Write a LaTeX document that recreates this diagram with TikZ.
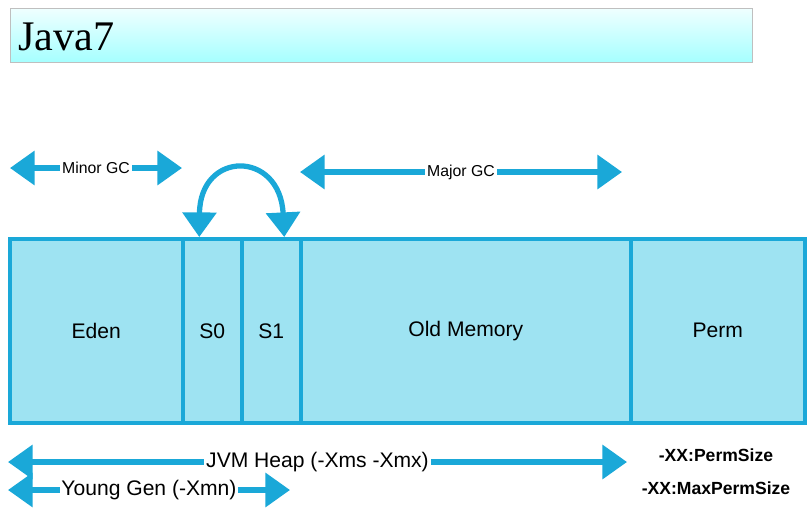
\documentclass[tikz,border=0pt]{standalone}
\usepackage{fontspec}
\setmainfont{Liberation Sans}
\newfontfamily\titlefont{Liberation Serif}
\usetikzlibrary{arrows.meta,calc}
\definecolor{jblue}{HTML}{1AA8D8}
\definecolor{jfill}{HTML}{9EE3F2}
\begin{document}
\begin{tikzpicture}[x=0.02cm,y=-0.02cm,
    cell/.style={draw=jblue,line width=2pt,fill=jfill,anchor=north west,inner sep=0pt,minimum height=184*0.02cm,font=\large},
    gc/.style={draw=jblue,line width=3pt,{Triangle[width=19pt,length=14pt]}-{Triangle[width=19pt,length=14pt]}},
    lbl/.style={fill=white,inner sep=1pt}]
  \useasboundingbox (0,0) rectangle (811,514);
  % title bar
  \shade[top color=cyan!6,bottom color=cyan!35,draw=gray!50] (10,8) rectangle (752,62);
  \node[anchor=west,font=\titlefont\fontsize{24}{28}\selectfont] (title) at (12,37) {Java7};
  % memory cells
  \node[cell,minimum width=173*0.02cm] (eden) at (8,237) {Eden};
  \node[cell,minimum width=59*0.02cm] (s0) at (181,237) {S0};
  \node[cell,minimum width=59*0.02cm] (s1) at (240,237) {S1};
  \node[cell,minimum width=330*0.02cm] (old) at (299,237) {Old Memory};
  \node[cell,minimum width=174*0.02cm] (perm) at (629,237) {Perm};
  % gc arrows
  \coordinate (mi1) at (10,168); \coordinate (mi2) at (182,168);
  \coordinate (ma1) at (300,172); \coordinate (ma2) at (622,172);
  \draw[gc] (mi1) -- node[lbl,font=\small] {Minor GC} (mi2);
  \draw[gc] (ma1) -- node[lbl,font=\small] {Major GC} (ma2);
  \draw[gc] ($(s0.north)+(-13,0)$) .. controls (200,150) and (280,150) .. ($(s1.north)+(13,0)$);
  % size arrows
  \coordinate (h1) at (8,462); \coordinate (h2) at (627,462);
  \coordinate (y1) at (8,490); \coordinate (y2) at (290,490);
  \draw[gc] (h1) -- node[lbl,font=\large] {JVM Heap (-Xms -Xmx)} (h2);
  \draw[gc] (y1) -- node[lbl,font=\large] {Young Gen (-Xmn)} (y2);
  \node[font=\bfseries] (ps) at (716,455) {-XX:PermSize};
  \node[font=\bfseries] (mps) at (716,488) {-XX:MaxPermSize};
\end{tikzpicture}
\end{document}
